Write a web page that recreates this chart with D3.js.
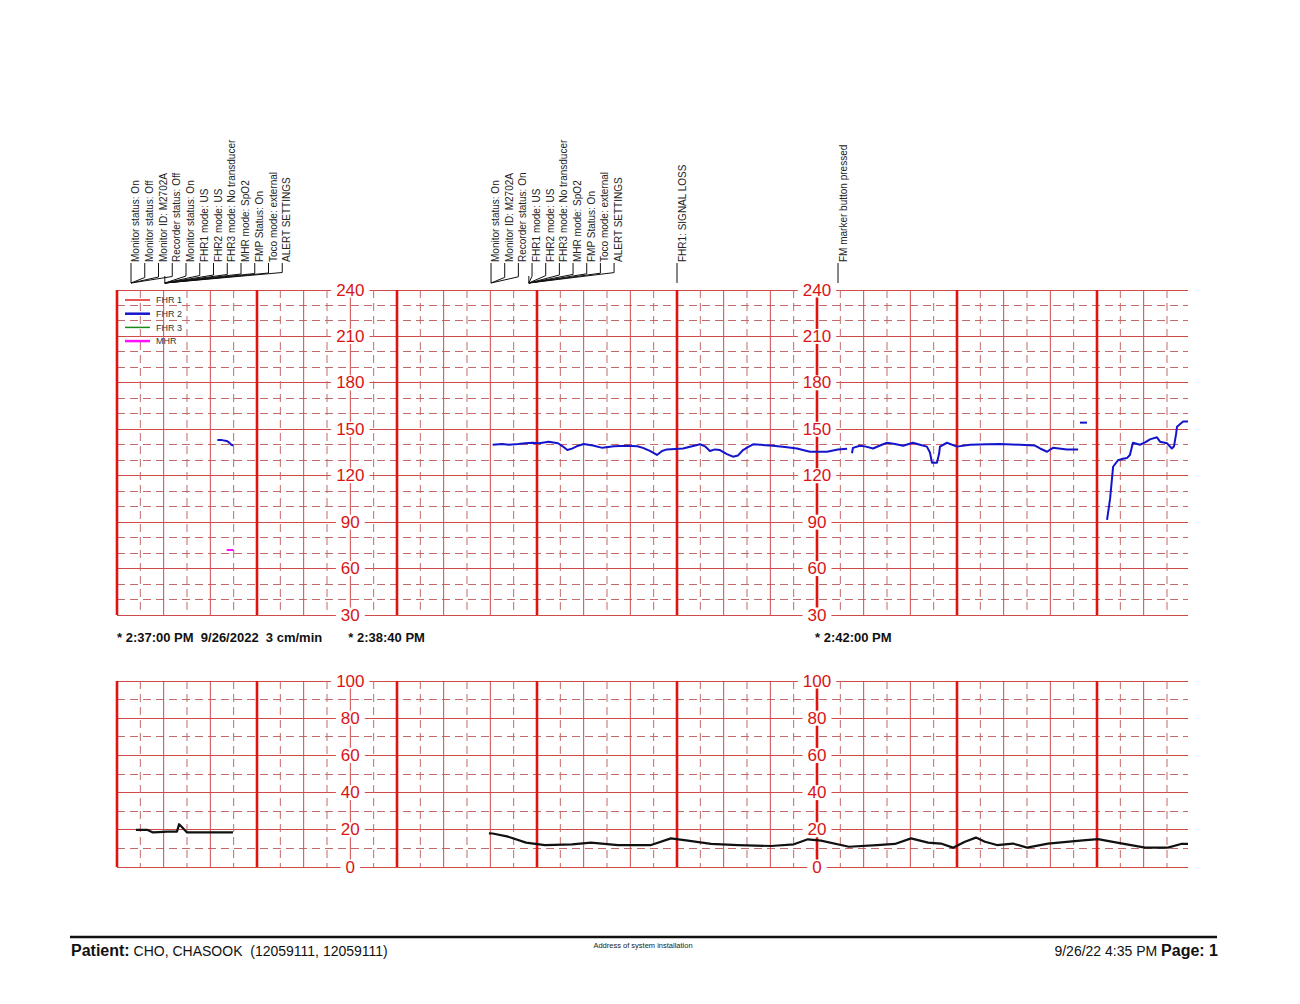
<!DOCTYPE html>
<html><head><meta charset="utf-8">
<script src="https://cdn.jsdelivr.net/npm/d3@7"></script>
<style>body{margin:0;background:#fff}svg{display:block}text{font-family:Arial,"Liberation Sans",sans-serif}</style>
</head><body>
<svg id="c" width="1300" height="1004"></svg>
<script>
// ---------------- DATA ----------------
const fhrTicks = [240, 210, 180, 150, 120, 90, 60, 30];
const tocoTicks = [100, 80, 60, 40, 20, 0];
const axisLabelTimes = [100, 300];              // seconds after 2:37:00 PM
const stampTimes = [0, 100, 300];
const stampTexts = ["* 2:37:00 PM  9/26/2022  3 cm/min", "* 2:38:40 PM", "* 2:42:00 PM"];
const legendNames = ["FHR 1", "FHR 2", "FHR 3", "MHR"];

// annotation groups: event times (s) and labels
const annot1Labels = ["Monitor status: On", "Monitor status: Off", "Monitor ID: M2702A", "Recorder status: Off",
  "Monitor status: On", "FHR1 mode: US", "FHR2 mode: US", "FHR3 mode: No transducer", "MHR mode: SpO2",
  "FMP Status: On", "Toco mode: external", "ALERT SETTINGS"];
const annot1Times = [6, 6, 6, 6, 20.5, 20.5, 20.5, 20.5, 20.5, 20.5, 20.5, 20.5];
const annot2Labels = ["Monitor status: On", "Monitor ID: M2702A", "Recorder status: On", "FHR1 mode: US",
  "FHR2 mode: US", "FHR3 mode: No transducer", "MHR mode: SpO2", "FMP Status: On", "Toco mode: external", "ALERT SETTINGS"];
const annot2Times = [160.3, 160.3, 160.3, 176.5, 176.5, 176.5, 176.5, 176.5, 176.5, 176.5];
const singleEventTimes = [240, 309];
const singleEventLabels = ["FHR1: SIGNAL LOSS", "FM marker button pressed"];

// FHR2 (blue), [seconds, bpm]
const fhr2A = [[43,143],[45,143],[47,142.5],[48,141.5],[49,140],[50,139.5]];
const fhr2B = [[161,140],[165,140.5],[168,140],[172,140.5],[175,141],[178,141.3],[181,141],[185,142],[187,141.5],[189,141],
  [191,139],[193,136.6],[195,137.5],[197,139],[200,140.5],[204,139.5],[208,138],[213,139],[218.6,139.4],[223,139],
  [225.4,138],[228.4,136],[231.4,133.4],[233.6,136],[235.7,137],[242.6,137.6],[249.9,140.3],[252,139],[254.1,136],
  [256.3,137],[258.4,136.6],[261.4,134],[264,132.3],[266.1,133],[268.3,136.6],[270.4,138.5],[272.6,140.3],
  [281.1,139.4],[286.3,138.5],[291.4,137.6],[297,135.5],[304.3,135.5],[309,137],[312.9,137.5]];
const fhr2C = [[315,134.5],[315.4,138],[318.4,139.4],[321,138.8],[324,137.6],[327,139.5],[330,141.3],[333.4,140.5],
  [336.9,139.4],[341.1,141.3],[344.1,140],[347.1,138.8],[348.4,135],[349.3,128.4],[351.4,128.4],[352.3,134],
  [352.7,138.8],[355.7,141.3],[360,138.8],[365.6,140],[372.9,140.3],[378.4,140.5],[387,140],[393.4,139.5],
  [395.6,137.6],[398.6,135.5],[401.1,138],[407.1,137],[411.9,137]];
const fhr2D = [[412.7,154.3],[415.7,154.3]];
const fhr2E = [[424.3,91.4],[425.6,105],[426.9,125.8],[429,130],[431.1,131],[432.9,131.5],[434.1,133.4],[435.4,141.3],
  [438.4,140],[440.6,141.5],[442.7,143.5],[445.7,144.8],[447,142],[450,141],[452.1,137.6],[453,139],[453.9,147],
  [454.3,151.7],[456.9,155],[459,155]];
// MHR (magenta)
const mhrA = [[47,72],[50,72]];
// Toco (black)
const tocoA = [[8.1,20],[12.9,20],[15.4,18.6],[18,18.8],[21.4,19],[25.7,19],[26.6,23],[27.4,22],[28.3,20.8],[30,18.6],[49.7,18.6]];
const tocoB = [[159.4,18.1],[161,18],[167.6,16.3],[175.3,13.1],[183.4,11.8],[195,12.2],[203.1,13.1],[214.7,11.8],
  [228.9,11.8],[237.4,15.4],[244.7,14.2],[254.6,12.4],[266.1,11.8],[280.3,11.3],[290.1,12.2],[296.1,14.9],
  [301.7,14.2],[313.7,10.9],[325.7,11.8],[333.4,12.4],[340.3,15.4],[347.6,13.1],[353.1,12.6],[358.3,10.4],
  [363.4,13.6],[368.1,15.8],[372,13.6],[377.1,11.8],[384,12.6],[390,10.4],[399,12.6],[412.7,14.2],[420.4,15],
  [428.6,13.1],[440.6,10.4],[450.4,10.4],[456,12.4],[459,12.4]];

// ---------------- STYLE ----------------
const C = {thick:"#e3120f", solid:"#d04a4a", dash:"#c46a6a", label:"#d81414",
  fhr1:"#e02020", fhr2:"#1414cc", fhr3:"#1a8a1a", mhr:"#ff10ff", toco:"#111"};
const legendColors = [C.fhr1, C.fhr2, C.fhr3, C.mhr];
const legendWidths = [1.5, 2.5, 1.5, 2.5];

const svg = d3.select("#c");
const x = d3.scaleLinear().domain([0, 459]).range([117, 1188]);
const yT = d3.scaleLinear().domain([30, 240]).range([615, 290]);
const yB = d3.scaleLinear().domain([0, 100]).range([867, 681]);
const vTimes = d3.range(0, 460, 10);

function grid(y, vmin, vmax, solidEvery) {
  const g = svg.append("g");
  d3.range(vmin, vmax + 1, 10).forEach(v => {
    const solid = v % solidEvery === 0;
    g.append("line").attr("x1", x(0)).attr("x2", x(459)).attr("y1", y(v)).attr("y2", y(v))
      .attr("stroke", solid ? C.solid : C.dash).attr("stroke-width", 1)
      .attr("stroke-dasharray", solid ? null : "8,5").attr("shape-rendering", "crispEdges");
  });
  vTimes.forEach(t => {
    const thick = t % 60 === 0, solid = t % 20 === 0;
    g.append("line").attr("x1", x(t)).attr("x2", x(t)).attr("y1", y(vmax)).attr("y2", y(vmin))
      .attr("stroke", thick ? C.thick : solid ? C.solid : C.dash)
      .attr("stroke-width", thick ? 2.6 : 1)
      .attr("stroke-dasharray", thick || solid ? null : "8,5");
  });
}
grid(yT, 30, 240, 30);
grid(yB, 0, 100, 20);

function axisLabels(y, ticks) {
  axisLabelTimes.forEach(t => {
    ticks.forEach(v => {
      const g = svg.append("g");
      const tx = g.append("text").attr("x", x(t)).attr("y", y(v)).attr("text-anchor", "middle")
        .attr("dominant-baseline", "central").attr("font-size", 17).attr("fill", C.label).text(v);
      const bb = tx.node().getBBox();
      g.insert("rect", "text").attr("x", bb.x - 5).attr("y", bb.y + 2).attr("width", bb.width + 10)
        .attr("height", bb.height - 4).attr("fill", "#fff");
    });
  });
}
axisLabels(yT, fhrTicks);
axisLabels(yB, tocoTicks);

// legend
legendNames.forEach((n, i) => {
  const yy = 300 + i * 13.7;
  svg.append("line").attr("x1", 125).attr("x2", 150).attr("y1", yy).attr("y2", yy)
    .attr("stroke", legendColors[i]).attr("stroke-width", legendWidths[i]);
  svg.append("text").attr("x", 156).attr("y", yy + 3.2).attr("font-size", 9).attr("fill", "#333").text(n);
});

// traces
const lineT = d3.line().x(d => x(d[0])).y(d => yT(d[1]));
const lineB = d3.line().x(d => x(d[0])).y(d => yB(d[1]));
[fhr2A, fhr2B, fhr2C, fhr2D, fhr2E].forEach(s => svg.append("path").attr("d", lineT(s)).attr("fill", "none")
  .attr("stroke", C.fhr2).attr("stroke-width", 2).attr("stroke-linejoin", "round"));
svg.append("path").attr("d", lineT(mhrA)).attr("fill", "none").attr("stroke", C.mhr).attr("stroke-width", 2);
[tocoA, tocoB].forEach(s => svg.append("path").attr("d", lineB(s)).attr("fill", "none")
  .attr("stroke", C.toco).attr("stroke-width", 2.2).attr("stroke-linejoin", "round"));

// time stamps
stampTimes.forEach((t, i) => {
  svg.append("text").attr("x", x(t) - (i === 0 ? 0 : 2)).attr("y", 642).attr("font-size", 13)
    .attr("font-weight", "bold").attr("fill", "#111").style("white-space", "pre").text(stampTexts[i]);
});

// annotations
function annotGroup(labels, times, spacing) {
  const x0 = x(times[0]);
  const origins = Array.from(new Set(times));
  origins.forEach((t, k) => {
    if (k > 0) svg.append("line").attr("x1", x(t)).attr("x2", x(t)).attr("y1", 276).attr("y2", 283)
      .attr("stroke", "#111").attr("stroke-width", 1);
  });
  labels.forEach((lab, i) => {
    const lx = x0 + i * spacing;
    const ox = x(times[i]);
    const fy = 272 + (1 - i / labels.length) * 6;
    svg.append("path").attr("d", `M${lx},263 L${lx},${i === 0 ? 283 : fy} L${ox},283`)
      .attr("fill", "none").attr("stroke", "#111").attr("stroke-width", 1);
    svg.append("text").attr("transform", `translate(${lx + 8},262) rotate(-90)`)
      .attr("font-size", 10).attr("fill", "#222").text(lab);
  });
}
annotGroup(annot1Labels, annot1Times, 13.75);
annotGroup(annot2Labels, annot2Times, 13.67);
singleEventTimes.forEach((t, i) => {
  svg.append("line").attr("x1", x(t)).attr("x2", x(t)).attr("y1", 263).attr("y2", 283)
    .attr("stroke", "#111").attr("stroke-width", 1);
  svg.append("text").attr("transform", `translate(${x(t) + 8.5},262) rotate(-90)`)
    .attr("font-size", 10).attr("fill", "#222").text(singleEventLabels[i]);
});

// footer
svg.append("line").attr("x1", 70).attr("x2", 1217).attr("y1", 937).attr("y2", 937).attr("stroke", "#111").attr("stroke-width", 2.5);
const ft = svg.append("text").attr("x", 71).attr("y", 956).attr("fill", "#111").style("white-space", "pre");
ft.append("tspan").attr("font-size", 16).attr("font-weight", "bold").text("Patient:");
ft.append("tspan").attr("font-size", 14).text(" CHO, CHASOOK  (12059111, 12059111)");
svg.append("text").attr("x", 643).attr("y", 948).attr("text-anchor", "middle").attr("font-size", 7.5)
  .attr("fill", "#222").text("Address of system installation");
const fr = svg.append("text").attr("x", 1218).attr("y", 956).attr("text-anchor", "end").attr("fill", "#111").style("white-space", "pre");
fr.append("tspan").attr("font-size", 14).text("9/26/22 4:35 PM ");
fr.append("tspan").attr("font-size", 16).attr("font-weight", "bold").text("Page: 1");
</script>
</body></html>
